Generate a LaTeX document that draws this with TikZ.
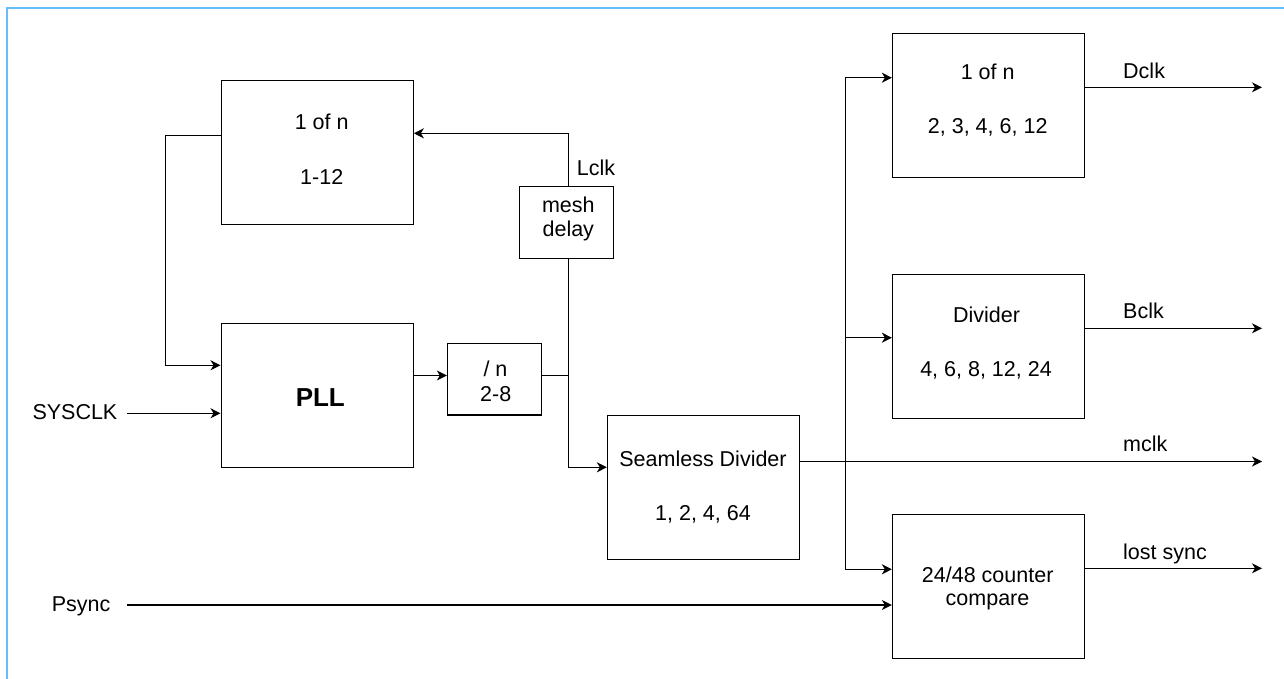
\documentclass[tikz,border=0pt]{standalone}
\usepackage{fontspec}
\setmainfont{Liberation Sans}
\usetikzlibrary{arrows.meta}
\definecolor{frameblue}{RGB}{102,189,252}
\tikzset{
  blk/.style={draw=black, line width=1.3pt, minimum width=192pt, minimum height=144pt, inner sep=0pt},
  smallblk/.style={draw=black, line width=1.3pt, minimum width=94pt, minimum height=71.6pt, inner sep=0pt},
  txt/.style={inner sep=0pt, font=\fontsize{21.5}{24}\selectfont, anchor=base},
  lbl/.style={inner sep=0pt, font=\fontsize{21.5}{24}\selectfont, anchor=base west},
  wire/.style={line width=1.3pt, black},
  arr/.style={wire, -{Stealth[length=10pt, width=10pt, inset=3pt]}}
}
\begin{document}
\begin{tikzpicture}[x=1pt, y=-1pt]
\useasboundingbox (0,0) rectangle (1284,679);
% frame
\draw[frameblue, line width=2.2pt] (7,679) -- (7,8) -- (1284,8);

% blocks
\node[blk] (oneA) at (317.2,152.2) {};
\node[blk] (pll)  at (317.2,395.3) {};
\node[smallblk] (divn) at (494.5,379.2) {};
\node[smallblk] (mesh) at (566.3,222.5) {};
\node[blk] (seam) at (703.5,487.3) {};
\node[blk] (oneB) at (988.5,105.3) {};
\node[blk] (div)  at (988.5,346.3) {};
\node[blk] (cmp)  at (988.5,586.3) {};

% block texts
\node[txt] (oneAa) at (321.7,130) {1 of n};
\node[txt] (oneAb) at (321.7,184.3) {1-12};
\node[txt, font=\fontsize{26}{28}\selectfont\bfseries] (pllt) at (320.3,406) {PLL};
\node[txt] (divna) at (495.5,376.7) {/ n};
\node[txt] (divnb) at (495.7,401) {2-8};
\node[txt] (mesha) at (568.3,212.3) {mesh};
\node[txt] (meshb) at (568.3,236.7) {delay};
\node[txt] (seama) at (703,466.7) {Seamless Divider};
\node[txt] (seamb) at (703,520) {1, 2, 4, 64};
\node[txt] (oneBa) at (987.7,79.3) {1 of n};
\node[txt] (oneBb) at (987.7,133.3) {2, 3, 4, 6, 12};
\node[txt] (diva) at (986.5,322) {Divider};
\node[txt] (divb) at (986,376) {4, 6, 8, 12, 24};
\node[txt] (cmpa) at (987.7,582.3) {24/48 counter};
\node[txt] (cmpb) at (987.5,605.3) {compare};

% signal labels
\node[lbl] (sysclk) at (32.3,419.3) {SYSCLK};
\node[lbl] (psync) at (51.7,611) {Psync};
\node[lbl] (lclk) at (576.7,175.7) {Lclk};
\node[lbl] (dclk) at (1123,79) {Dclk};
\node[lbl] (bclk) at (1123,318.3) {Bclk};
\node[lbl] (mclk) at (1123,451.7) {mclk};
\node[lbl] (lost) at (1123,559.3) {lost sync};

% routing points
\coordinate (fbA) at (165.3,135.3);
\coordinate (fbB) at (165.3,365.3);
\coordinate (sysin) at (126.7,413.3);
\coordinate (psin) at (126.7,605);
\coordinate (j1) at (568.3,375.5);
\coordinate (j2) at (568.3,467.3);
\coordinate (lturn) at (568.3,133.3);
\coordinate (bustop) at (845.3,77.7);
\coordinate (busmid) at (845.3,337.7);
\coordinate (busbot) at (845.3,569.3);
\coordinate (dclkend) at (1262,87.3);
\coordinate (bclkend) at (1262,328.3);
\coordinate (mclkend) at (1262,461.5);
\coordinate (lostend) at (1262,568.3);

% left section
\draw[arr] (oneA.west |- fbA) -- (fbA) -- (fbB) -- (fbB -| pll.west);
\draw[arr] (sysin) -- (sysin -| pll.west);
\draw[arr] (pll.east |- j1) -- (divn.west |- j1);
\draw[wire] (divn.east |- j1) -- (j1);
\draw[arr] (lturn |- mesh.north) -- (lturn) -- (lturn -| oneA.east);
\draw[arr] (j2 |- mesh.south) -- (j2) -- (j2 -| seam.west);
\draw[arr] (psin) -- (psin -| cmp.west);

% right section
\draw[arr] (seam.east |- mclkend) -- (mclkend);
\draw[wire] (bustop) -- (busbot);
\draw[arr] (bustop) -- (bustop -| oneB.west);
\draw[arr] (busmid) -- (busmid -| div.west);
\draw[arr] (busbot) -- (busbot -| cmp.west);
\draw[arr] (oneB.east |- dclkend) -- (dclkend);
\draw[arr] (div.east |- bclkend) -- (bclkend);
\draw[arr] (cmp.east |- lostend) -- (lostend);
\end{tikzpicture}
\end{document}
